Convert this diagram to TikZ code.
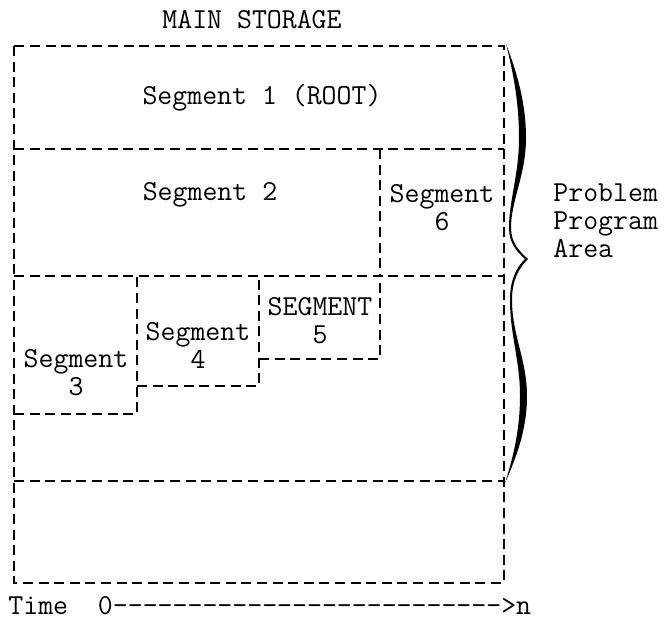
\documentclass[tikz,border=0pt]{standalone}
\begin{document}
\begin{tikzpicture}[x=0.5pt, y=-0.5pt,
  dsh/.style={line width=1.2pt, dash pattern=on 5pt off 2.8pt},
  lbl/.style={font=\ttfamily\fontsize{14.5}{14}\selectfont, align=center,
              inner sep=0pt},
  brc/.style={fill=black, line width=0.4pt}
]
  \useasboundingbox (0,0) rectangle (665,618);

  % Title
  \node[lbl] (title) at (252,20) {MAIN STORAGE};

  % Storage outline and partitions
  \draw[dsh] (14,46) rectangle (504,583);
  \foreach \y in {149,276,481} {
    \draw[dsh] (14,\y) -- (504,\y);
  }
  \draw[dsh] (380,149) -- (380,276);
  \draw[dsh] (14,414) -| (137,276);
  \draw[dsh] (137,386) -| (259,276);
  \draw[dsh] (259,359) -| (380,276);

  % Segments
  \node[lbl] (seg1) at (262,98) {Segment 1 (ROOT)};
  \node[lbl] (seg2) at (210,195) {Segment 2};
  \node[lbl] (seg6) at (442,208) {Segment\\6};
  \node[lbl] (seg5) at (320,321) {SEGMENT\\5};
  \node[lbl] (seg4) at (198,345) {Segment\\4};
  \node[lbl] (seg3) at (76,373) {Segment\\3};

  % Brace
  \fill[brc] (506,44) .. controls (518,75) and (526,105) .. (526,138)
    .. controls (526,175) and (511,200) .. (511,228)
    .. controls (511,243) and (520,252) .. (528,259)
    .. controls (519,268) and (512,280) .. (512,300)
    .. controls (512,335) and (527,360) .. (527,396)
    .. controls (527,430) and (516,458) .. (505,483)
    .. controls (513,458) and (520,430) .. (520,396)
    .. controls (520,360) and (510,335) .. (510,300)
    .. controls (510,280) and (516,268) .. (525,259)
    .. controls (517,252) and (509,243) .. (509,228)
    .. controls (509,200) and (519,175) .. (519,138)
    .. controls (519,105) and (514,75) .. (506,44) -- cycle;
  \node[lbl, align=left, anchor=west] (area) at (553,221) {Problem\\Program\\Area};

  % Time axis
  \node[lbl, anchor=base west] (time) at (8,614)
    {Time\ \ 0\foreach \k in {1,...,26}{-}>n};
\end{tikzpicture}
\end{document}
